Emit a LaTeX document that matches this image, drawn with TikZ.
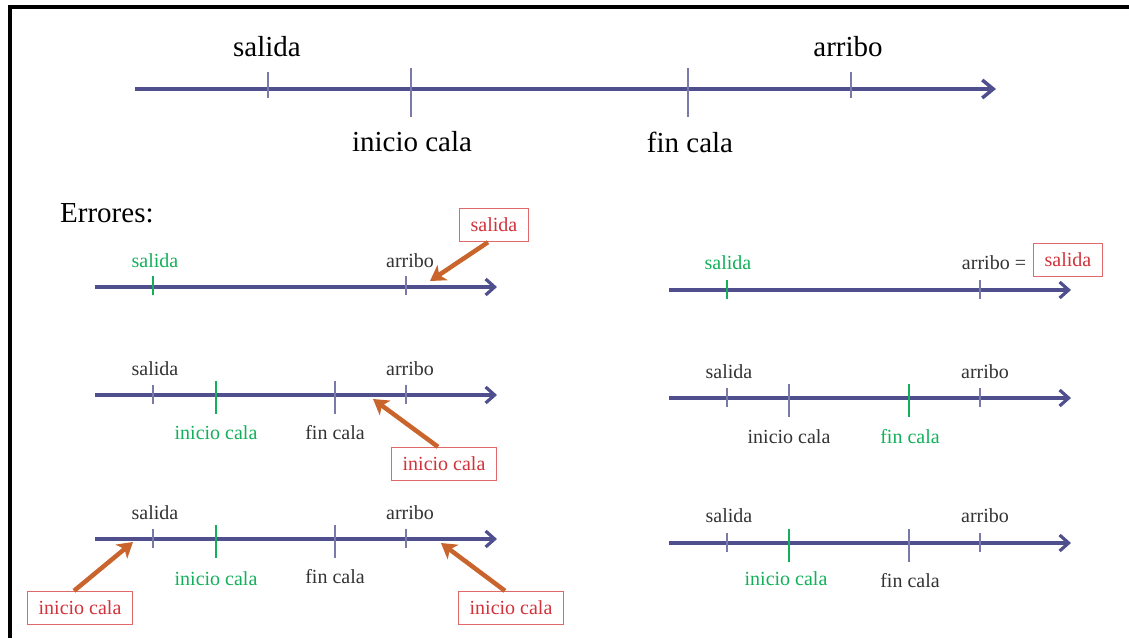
\documentclass[tikz,border=0pt]{standalone}
\usepackage{fontspec}
\setmainfont{Liberation Serif}
\usetikzlibrary{arrows.meta}
\definecolor{axisblue}{HTML}{4F4F8D}
\definecolor{tickblue}{HTML}{7A7AAA}
\definecolor{okgreen}{HTML}{12B05A}
\definecolor{errred}{HTML}{D2323A}
\definecolor{boxred}{HTML}{E06868}
\definecolor{arrorange}{HTML}{C8642C}
\definecolor{txtgray}{HTML}{333333}
\tikzset{
  axisline/.style={draw=axisblue, line width=3.5pt, -{Straight Barb[length=11pt,width=18pt,line width=3.5pt]}},
  smallaxis/.style={draw=axisblue, line width=3.2pt, -{Straight Barb[length=9pt,width=16pt,line width=3.2pt]}},
  tickmark/.style={draw=tickblue, line width=1.2pt},
  goodtick/.style={draw=okgreen, line width=1.8pt},
  biglabel/.style={font=\fontsize{29}{32}\selectfont, text=black, inner sep=0pt},
  lab/.style={font=\fontsize{20}{24}\selectfont, text=txtgray, inner sep=0pt},
  goodlab/.style={lab, text=okgreen},
  errbox/.style={draw=boxred, line width=1.3pt, text=errred, font=\fontsize{20}{24}\selectfont, inner xsep=11pt, inner ysep=9.5pt, fill=white},
  pointer/.style={draw=arrorange, line width=4.5pt, -{Stealth[inset=4pt,length=15pt,width=18pt]}},
  framebar/.style={draw=black, line width=4pt}
}
\begin{document}
\begin{tikzpicture}[x=1pt,y=-1pt]
\useasboundingbox (0,0) rectangle (1129,638);
% frame
\coordinate (fTL) at (9.5,7);
\coordinate (fTR) at (1129,7);
\coordinate (fBL) at (9.5,638);
\draw[framebar] (fTR) -- (fTL) -- (fBL);

% ===== main timeline =====
\coordinate (m0) at (135,89);
\coordinate (m1) at (996,89);
\draw[axisline] (m0) -- (m1);
\coordinate (ms1) at (268,72); \coordinate (ms2) at (268,98);
\coordinate (mi1) at (411,68); \coordinate (mi2) at (411,117);
\coordinate (mf1) at (688,68); \coordinate (mf2) at (688,117);
\coordinate (ma1) at (851,72); \coordinate (ma2) at (851,98);
\draw[tickmark] (ms1) -- (ms2);
\draw[tickmark] (mi1) -- (mi2);
\draw[tickmark] (mf1) -- (mf2);
\draw[tickmark] (ma1) -- (ma2);
\node[biglabel] (msal) at (267,47) {salida};
\node[biglabel] (marr) at (848,47) {arribo};
\node[biglabel] (mini) at (412,142) {inicio cala};
\node[biglabel] (mfin) at (690,142) {fin cala};

\node[biglabel, anchor=west] (err) at (60,213) {Errores:};

% ===== error 1 left =====
\coordinate (a0) at (95,287);
\coordinate (a1) at (497,287);
\draw[smallaxis] (a0) -- (a1);
\coordinate (as1) at (153,276); \coordinate (as2) at (153,295);
\coordinate (aa1) at (406,276); \coordinate (aa2) at (406,295);
\draw[goodtick] (as1) -- (as2);
\draw[tickmark] (aa1) -- (aa2);
\node[goodlab] (asal) at (155,261) {salida};
\node[lab] (aarr) at (410,261) {arribo};
\node[errbox] (abox) at (494,225) {salida};
\coordinate (atip) at (430,281);
\draw[pointer] ([xshift=-6pt]abox.south) -- (atip);

% ===== error 1 right =====
\coordinate (b0) at (669,290);
\coordinate (b1) at (1071,290);
\draw[smallaxis] (b0) -- (b1);
\coordinate (bs1) at (727,280); \coordinate (bs2) at (727,299);
\coordinate (ba1) at (980,280); \coordinate (ba2) at (980,299);
\draw[goodtick] (bs1) -- (bs2);
\draw[tickmark] (ba1) -- (ba2);
\node[goodlab] (bsal) at (728,263) {salida};
\node[lab] (barr) at (994,263) {arribo =};
\node[errbox] (bbox) at (1068,260) {salida};

% ===== error 2 left =====
\coordinate (c0) at (95,395);
\coordinate (c1) at (497,395);
\draw[smallaxis] (c0) -- (c1);
\coordinate (cs1) at (153,385); \coordinate (cs2) at (153,404);
\coordinate (ci1) at (216,381); \coordinate (ci2) at (216,414);
\coordinate (cf1) at (335,381); \coordinate (cf2) at (335,414);
\coordinate (ca1) at (406,385); \coordinate (ca2) at (406,404);
\draw[tickmark] (cs1) -- (cs2);
\draw[goodtick] (ci1) -- (ci2);
\draw[tickmark] (cf1) -- (cf2);
\draw[tickmark] (ca1) -- (ca2);
\node[lab] (csal) at (155,369) {salida};
\node[lab] (carr) at (410,369) {arribo};
\node[goodlab] (cini) at (216,433) {inicio cala};
\node[lab] (cfin) at (335,433) {fin cala};
\node[errbox] (cbox) at (444,464) {inicio cala};
\coordinate (ctip) at (373,399);
\draw[pointer] ([xshift=-6pt]cbox.north) -- (ctip);

% ===== error 2 right =====
\coordinate (d0) at (669,398);
\coordinate (d1) at (1071,398);
\draw[smallaxis] (d0) -- (d1);
\coordinate (ds1) at (727,388); \coordinate (ds2) at (727,407);
\coordinate (di1) at (789,384); \coordinate (di2) at (789,417);
\coordinate (df1) at (909,384); \coordinate (df2) at (909,417);
\coordinate (da1) at (980,388); \coordinate (da2) at (980,407);
\draw[tickmark] (ds1) -- (ds2);
\draw[tickmark] (di1) -- (di2);
\draw[goodtick] (df1) -- (df2);
\draw[tickmark] (da1) -- (da2);
\node[lab] (dsal) at (729,372) {salida};
\node[lab] (darr) at (985,372) {arribo};
\node[lab] (dini) at (789,437) {inicio cala};
\node[goodlab] (dfin) at (910,437) {fin cala};

% ===== error 3 left =====
\coordinate (e0) at (95,539);
\coordinate (e1) at (497,539);
\draw[smallaxis] (e0) -- (e1);
\coordinate (es1) at (153,529); \coordinate (es2) at (153,548);
\coordinate (ei1) at (216,525); \coordinate (ei2) at (216,558);
\coordinate (ef1) at (335,525); \coordinate (ef2) at (335,558);
\coordinate (ea1) at (406,529); \coordinate (ea2) at (406,548);
\draw[tickmark] (es1) -- (es2);
\draw[goodtick] (ei1) -- (ei2);
\draw[tickmark] (ef1) -- (ef2);
\draw[tickmark] (ea1) -- (ea2);
\node[lab] (esal) at (155,513) {salida};
\node[lab] (earr) at (410,513) {arribo};
\node[goodlab] (eini) at (216,579) {inicio cala};
\node[lab] (efin) at (335,577) {fin cala};
\node[errbox] (ebox1) at (80,608) {inicio cala};
\node[errbox] (ebox2) at (511,608) {inicio cala};
\coordinate (etip1) at (133,542);
\coordinate (etip2) at (441,543);
\draw[pointer] ([xshift=-6pt]ebox1.north) -- (etip1);
\draw[pointer] ([xshift=-6pt]ebox2.north) -- (etip2);

% ===== error 3 right =====
\coordinate (g0) at (669,543);
\coordinate (g1) at (1071,543);
\draw[smallaxis] (g0) -- (g1);
\coordinate (gs1) at (727,533); \coordinate (gs2) at (727,552);
\coordinate (gi1) at (789,529); \coordinate (gi2) at (789,562);
\coordinate (gf1) at (909,529); \coordinate (gf2) at (909,562);
\coordinate (ga1) at (980,533); \coordinate (ga2) at (980,552);
\draw[tickmark] (gs1) -- (gs2);
\draw[goodtick] (gi1) -- (gi2);
\draw[tickmark] (gf1) -- (gf2);
\draw[tickmark] (ga1) -- (ga2);
\node[lab] (gsal) at (729,516) {salida};
\node[lab] (garr) at (985,516) {arribo};
\node[goodlab] (gini) at (786,579) {inicio cala};
\node[lab] (gfin) at (910,581) {fin cala};
\end{tikzpicture}
\end{document}
